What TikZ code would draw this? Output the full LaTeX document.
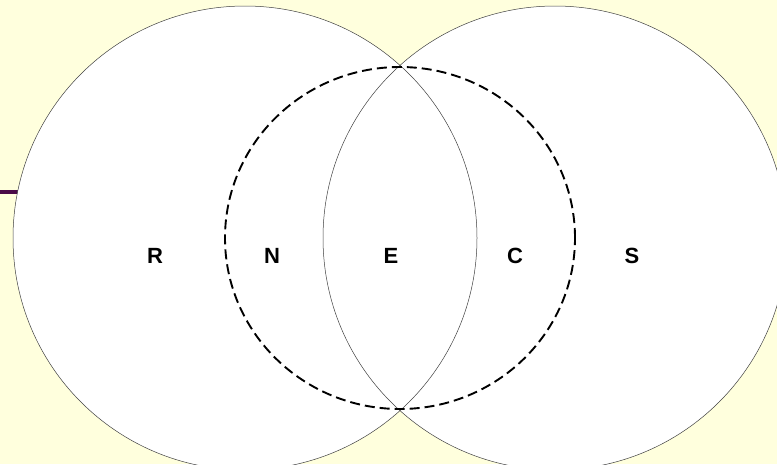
\documentclass[tikz,border=0pt]{standalone}
\usepackage{fontspec}
\setmainfont{Liberation Sans}
\usetikzlibrary{shapes.geometric}
\definecolor{bgyellow}{HTML}{FFFFDD}
\definecolor{rulepurple}{HTML}{4A0A48}
\begin{document}
\begin{tikzpicture}[x=1pt,y=-1pt,
  ring/.style={circle, draw=black!75, line width=0.5pt, minimum size=464pt, inner sep=0pt},
  dashring/.style={ellipse, draw=black, line width=1.9pt, dash pattern=on 10pt off 5pt, minimum width=350pt, minimum height=342pt, inner sep=0pt},
  lbl/.style={font=\bfseries\fontsize{22}{22}\selectfont, text=black, inner sep=0pt}]
\fill[bgyellow] (0,0) rectangle (777,464);
\useasboundingbox (0,0) rectangle (777,464);
\draw[rulepurple, line width=4pt] (0,191.5) -- (40,191.5);
\fill[white] (245,238) circle (232pt);
\fill[white] (555,238) circle (232pt);
\node[ring] (L) at (245,238) {};
\node[ring] (Rc) at (555,238) {};
\node[dashring] (D) at (400,238) {};
\node[lbl] (r) at (155,256) {R};
\node[lbl] (n) at (272,256) {N};
\node[lbl] (e) at (391,256) {E};
\node[lbl] (c) at (515,256) {C};
\node[lbl] (s) at (632,256) {S};
\end{tikzpicture}
\end{document}
